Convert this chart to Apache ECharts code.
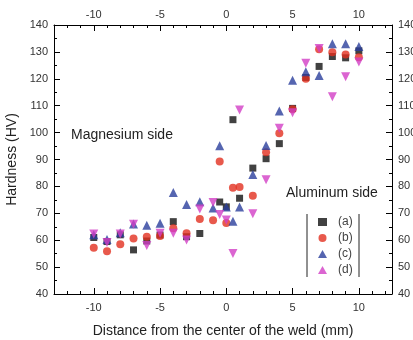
<!DOCTYPE html>
<html>
<head>
<meta charset="utf-8">
<script src="https://cdn.jsdelivr.net/npm/echarts@6/dist/echarts.min.js"></script>
<style>
  html, body { margin: 0; padding: 0; background: #fff; }
  #chart { width: 413px; height: 340px; }
</style>
</head>
<body>
<div id="chart"></div>
<script>
// distances (mm) and hardness (HV) per sample
const xA = [-10, -9, -8, -7, -6, -5, -4, -3, -2, -0.5, 0, 0.5, 1, 2, 3, 4, 5, 6, 7, 8, 9, 10]
const hvA = [61, 59.5, 62, 56.4, 59.7, 61.9, 66.9, 61.3, 62.5, 74.2, 72.4, 104.8, 75.6, 86.8, 90.3, 95.9, 109, 120.5, 124.6, 128.3, 127.8, 130.4]

const xB = [-10, -9, -8, -7, -6, -5, -4, -3, -2, -1, -0.5, 0, 0.5, 1, 2, 3, 4, 5, 6, 7, 8, 9, 10]
const hvB = [57.2, 55.9, 58.5, 60.6, 61.3, 61.6, 64.4, 62.6, 67.9, 67.4, 89.3, 66.4, 79.5, 79.8, 76.5, 92.7, 99.8, 108.7, 120, 131, 129.9, 129, 128]

const xC = [-10, -9, -8, -7, -6, -5, -4, -3, -2, -1, -0.5, 0, 0.5, 1, 2, 3, 4, 5, 6, 7, 8, 9, 10]
const hvC = [62, 60.3, 62.8, 66, 65.6, 66.3, 77.7, 73.3, 74.3, 72, 95.1, 72.3, 67, 72.3, 84.4, 95.2, 108, 119.5, 122.6, 121.2, 133, 133, 132]

const xD = [-10, -9, -8, -7, -6, -5, -4, -3, -2, -1, -0.5, 0, 0.5, 1, 2, 3, 4, 5, 6, 7, 8, 9, 10]
const hvD = [62.3, 59.1, 62.3, 65.9, 58, 62.6, 62.6, 60.1, 71.6, 74, 69.6, 67.5, 55.1, 108.4, 69.8, 82.5, 101.6, 107.4, 125.8, 131.3, 113.3, 120.8, 126.2]

const seriesNames = ['(a)', '(b)', '(c)', '(d)']
const majorX = [-10, -5, 0, 5, 10]

const FONT = 'Liberation Sans, Arial, sans-serif'
const TEXT = '#333'

const chart = echarts.init(document.getElementById('chart'), null, { renderer: 'canvas' })

const pairs = (xs, ys) => xs.map((x, i) => [x, ys[i]])

const minorXAxis = (position) => ({
  type: 'value',
  position,
  min: -13,
  max: 12.5,
  interval: 1,
  axisLine: { show: true, onZero: false, lineStyle: { color: '#000', width: 1 } },
  axisTick: { show: true, inside: true, length: 3, lineStyle: { color: '#000' } },
  axisLabel: {
    show: true,
    margin: position === 'bottom' ? 8 : 5,
    color: TEXT,
    fontSize: 11,
    fontFamily: FONT,
    formatter: (v) => (majorX.includes(v) ? String(v) : ''),
  },
  splitLine: { show: false },
})

const majorXAxis = (position) => ({
  type: 'value',
  position,
  min: -13,
  max: 12.5,
  axisLine: { show: false, onZero: false },
  axisTick: { show: true, inside: true, length: 6, customValues: majorX, lineStyle: { color: '#000' } },
  axisLabel: { show: false },
  splitLine: { show: false },
})

const yAxisDef = (position) => ({
  type: 'value',
  position,
  min: 40,
  max: 140,
  interval: 10,
  axisLine: { show: true, onZero: false, lineStyle: { color: '#000', width: 1 } },
  axisTick: { show: true, inside: true, length: 6, lineStyle: { color: '#000' } },
  minorTick: { show: true, splitNumber: 2, length: 3, lineStyle: { color: '#000' } },
  axisLabel: { margin: 6, color: TEXT, fontSize: 11, fontFamily: FONT },
  splitLine: { show: false },
})

const xAxes = [minorXAxis('bottom'), majorXAxis('bottom'), minorXAxis('top'), majorXAxis('top')]
xAxes[0].name = 'Distance from the center of the weld (mm)'
xAxes[0].nameLocation = 'middle'
xAxes[0].nameGap = 30
xAxes[0].nameTextStyle = { color: '#222', fontSize: 14, fontFamily: FONT }

const yAxes = [yAxisDef('left'), yAxisDef('right')]
yAxes[0].name = 'Hardness (HV)'
yAxes[0].nameLocation = 'middle'
yAxes[0].nameGap = 35
yAxes[0].nameTextStyle = { color: '#222', fontSize: 14, fontFamily: FONT }

const base = { type: 'scatter', xAxisIndex: 0, yAxisIndex: 0 }

chart.setOption({
  animation: false,
  grid: { left: 54, right: 21, top: 25, bottom: 46, outerBoundsMode: 'none' },
  xAxis: xAxes,
  yAxis: yAxes,
  legend: {
    data: seriesNames,
    orient: 'vertical',
    left: 318,
    top: 216,
    padding: 0,
    itemGap: 4,
    itemWidth: 9,
    itemHeight: 8,
    textStyle: { color: '#444', fontSize: 12, fontFamily: FONT, lineHeight: 12, padding: [0, 0, 0, 6] },
  },
  graphic: [
    { type: 'line', shape: { x1: 307, y1: 214, x2: 307, y2: 277 }, style: { stroke: '#222', lineWidth: 1 } },
    { type: 'line', shape: { x1: 359, y1: 214, x2: 359, y2: 277 }, style: { stroke: '#222', lineWidth: 1 } },
    { type: 'text', left: 71, top: 128, style: { text: 'Magnesium side', fill: '#222', font: '14px ' + FONT } },
    { type: 'text', left: 286, top: 186, style: { text: 'Aluminum side', fill: '#222', font: '14px ' + FONT } },
  ],
  series: [
    { ...base, name: seriesNames[0], symbol: 'rect', symbolSize: 7, itemStyle: { color: '#111' }, data: pairs(xA, hvA) },
    { ...base, name: seriesNames[1], symbol: 'circle', symbolSize: 8, itemStyle: { color: '#e2301f' }, data: pairs(xB, hvB) },
    { ...base, name: seriesNames[2], symbol: 'triangle', symbolSize: 9, itemStyle: { color: '#2b3f9c' }, data: pairs(xC, hvC) },
    { ...base, name: seriesNames[3], symbol: 'triangle', symbolRotate: 180, symbolSize: 9, itemStyle: { color: '#d23fc6' }, data: pairs(xD, hvD) },
  ],
})
</script>
</body>
</html>
